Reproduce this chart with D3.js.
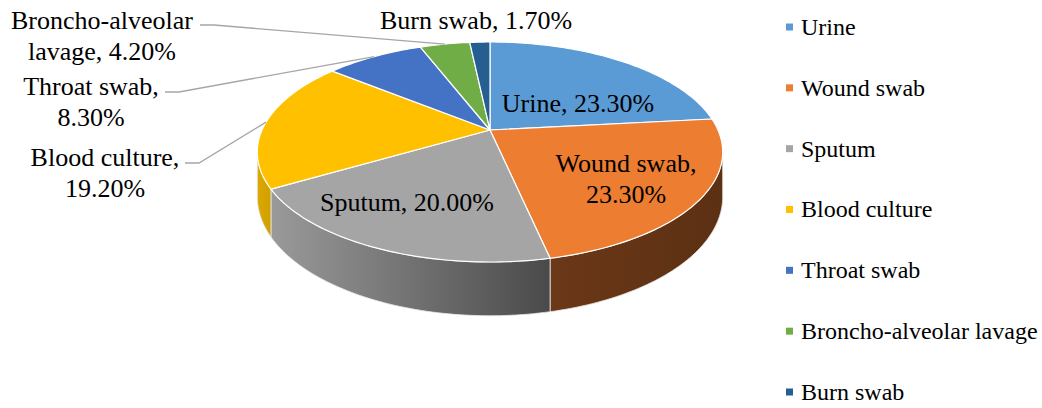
<!DOCTYPE html>
<html lang="en">
<head>
<meta charset="UTF-8">
<title>Sample type pie</title>
<style>
  html, body { margin: 0; padding: 0; background: #fff; overflow: hidden; }
</style>
</head>
<body>
<svg id="chart" width="1042" height="408"></svg>
<script src="https://cdn.jsdelivr.net/npm/d3@7"></script>
<script>
// data
const categories = ['Urine', 'Wound swab', 'Sputum', 'Blood culture', 'Throat swab', 'Broncho-alveolar lavage', 'Burn swab'];
const values = [23.3, 23.3, 20.0, 19.2, 8.3, 4.2, 1.7];
const colors = ['#5B9BD5', '#ED7D31', '#A5A5A5', '#FFC000', '#4472C4', '#70AD47', '#255E91'];
// label text lines for each slice
const labelLines = [
  ['Urine, 23.30%'],
  ['Wound swab,', '23.30%'],
  ['Sputum, 20.00%'],
  ['Blood culture,', '19.20%'],
  ['Throat swab,', '8.30%'],
  ['Broncho-alveolar', 'lavage, 4.20%'],
  ['Burn swab, 1.70%']
];

// layout (label boxes, leader start points)
const labelPos = [
  { x: 578, y: 103 },
  { x: 626, y: 163 },
  { x: 407, y: 202 },
  { x: 105, y: 157, lead: [185, 163] },
  { x: 91, y: 86, lead: [165, 92] },
  { x: 102, y: 20, lead: [200, 25] },
  { x: 476, y: 20 }
];
const sideColors = {
  1: ['#6b3818', '#5c3013'],
  2: ['#9a9a9a', '#4a4a4a'],
  3: ['#dcaa00', '#d09e00']
};
const FONT = '"Liberation Serif", "Times New Roman", Times, "DejaVu Serif", serif';

const svg = d3.select('#chart');
const defs = svg.append('defs');

// simple perspective projection of the tilted disk
const cx = 490, cy = 130, R = 228, A = 105.6, B = 0.2, H = 43;
function proj(t, k = 1, down = 0) {
  const c = Math.cos(t);
  const s = 1 / (1 + B * k * c);
  return [cx + R * k * Math.sin(t) * s, cy - A * k * c * s + down * s];
}
function arcPts(a0, a1, down) {
  const n = Math.max(2, Math.ceil(Math.abs(a1 - a0) / 0.02));
  return d3.range(n + 1).map(i => proj(a0 + (a1 - a0) * i / n, 1, down));
}

const pie = d3.pie().sort(null).value(d => d).startAngle(0).endAngle(2 * Math.PI);
const arcs = pie(values);
const line = d3.line();

// visible outer wall range (front half)
const vis0 = Math.acos(-B), vis1 = 2 * Math.PI - Math.acos(-B);

const sides = svg.append('g');
arcs.forEach((d, i) => {
  const a0 = Math.max(d.startAngle, vis0), a1 = Math.min(d.endAngle, vis1);
  if (a1 <= a0) return;
  const top = arcPts(a0, a1, 0);
  const bot = arcPts(a1, a0, H);
  const pts = top.concat(bot);
  const xs = d3.extent(pts, p => p[0]);
  const g = defs.append('linearGradient').attr('id', 'side' + i)
    .attr('gradientUnits', 'userSpaceOnUse')
    .attr('x1', xs[0]).attr('x2', xs[1]).attr('y1', 0).attr('y2', 0);
  const sc = sideColors[i] || [d3.color(colors[i]).darker(0.6), d3.color(colors[i]).darker(1)];
  g.append('stop').attr('offset', '0%').attr('stop-color', sc[0]);
  g.append('stop').attr('offset', '100%').attr('stop-color', sc[1]);
  sides.append('path')
    .attr('d', line(pts) + 'Z')
    .attr('fill', `url(#side${i})`)
    .attr('stroke', '#e8e8e8')
    .attr('stroke-width', 0.8)
    .attr('stroke-linejoin', 'round');
});

// top faces
const tops = svg.append('g');
arcs.forEach((d, i) => {
  const pts = [proj(0, 0)].concat(arcPts(d.startAngle, d.endAngle, 0));
  tops.append('path')
    .attr('d', line(pts) + 'Z')
    .attr('fill', colors[i])
    .attr('stroke', '#ffffff')
    .attr('stroke-width', 1.2)
    .attr('stroke-linejoin', 'round');
});

// leader lines
const leaders = svg.append('g');
arcs.forEach((d, i) => {
  const lp = labelPos[i];
  if (!lp.lead) return;
  const end = proj((d.startAngle + d.endAngle) / 2, 1, 0);
  leaders.append('path')
    .attr('d', line([lp.lead, [lp.lead[0] + 14, lp.lead[1]], end]))
    .attr('fill', 'none')
    .attr('stroke', '#a6a6a6')
    .attr('stroke-width', 1.3);
});

// data labels
const labels = svg.append('g')
  .attr('font-family', FONT)
  .attr('font-size', 26)
  .attr('text-anchor', 'middle');
labelLines.forEach((lines, i) => {
  const lp = labelPos[i];
  lines.forEach((t, j) => {
    labels.append('text')
      .attr('x', lp.x)
      .attr('y', lp.y + j * 31)
      .attr('dy', '0.33em')
      .attr('fill', '#000')
      .text(t);
  });
});

// legend
const legend = svg.append('g')
  .attr('font-family', FONT)
  .attr('font-size', 24);
const ly = d3.scalePoint().domain(categories).range([27, 392]);
categories.forEach((c, i) => {
  legend.append('rect')
    .attr('x', 786).attr('y', ly(c) - 3.5)
    .attr('width', 7).attr('height', 7)
    .attr('fill', colors[i]);
  legend.append('text')
    .attr('x', 801).attr('y', ly(c))
    .attr('dy', '0.33em')
    .attr('fill', '#000')
    .text(c);
});
</script>
</body>
</html>
